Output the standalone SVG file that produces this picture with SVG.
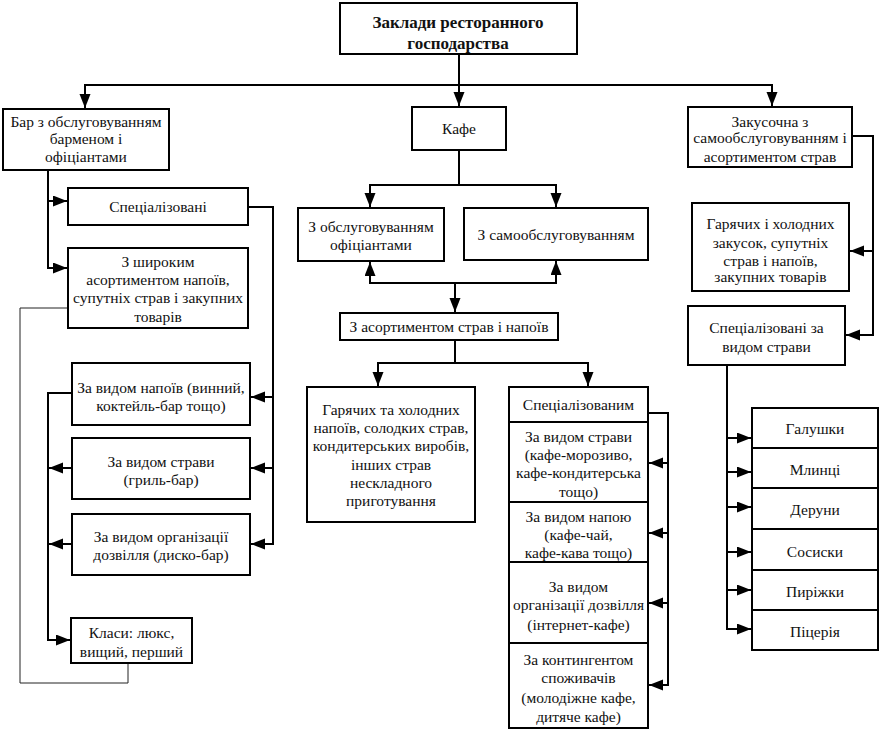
<svg xmlns="http://www.w3.org/2000/svg" width="879" height="731" viewBox="0 0 879 731">
<defs>
<marker id="ah" markerUnits="userSpaceOnUse" markerWidth="15" markerHeight="12" refX="14" refY="5.5" orient="auto">
<path d="M0,0 L14,5.5 L0,11 z" fill="#000"/>
</marker>
<style>
.box{fill:#fff;stroke:#000;stroke-width:2}
.t{font-family:"Liberation Serif","Times New Roman",serif;font-size:15.5px;fill:#111;text-anchor:middle}
.tb{font-family:"Liberation Serif","Times New Roman",serif;font-size:17px;font-weight:bold;fill:#111;text-anchor:middle}
.a{fill:none;stroke:#000;stroke-width:2;marker-end:url(#ah)}
.thin{fill:none;stroke:#222;stroke-width:1}
</style>
</defs>
<rect width="879" height="731" fill="#fff"/>
<g id="connectors">
<path class="a" d="M459,54 V106"/>
<path class="a" d="M459,85 H85 V108"/>
<path class="a" d="M459,85 H772 V106"/>
<path class="a" d="M48,170 V268 H67"/>
<path class="a" d="M48,201 H67"/>
<path class="a" d="M248,207 H273 V544 H251"/>
<path class="a" d="M273,397 H251"/>
<path class="a" d="M273,468 H251"/>
<path class="a" d="M72,393 H48 V640 H70"/>
<path class="a" d="M72,468 H49"/>
<path class="a" d="M72,544 H49"/>
<path class="thin" d="M68,308 H20 V683 H128 V663"/>
<path class="a" d="M459,150 V185 H370 V207"/>
<path class="a" d="M459,185 H556 V207"/>
<path class="a" d="M455,283 H370 V262"/>
<path class="a" d="M455,283 H556 V261"/>
<path class="a" d="M455,283 V312"/>
<path class="a" d="M455,340 V363 H378 V386"/>
<path class="a" d="M455,363 H588 V386"/>
<path class="a" d="M648,413 H668 V685 H649"/>
<path class="a" d="M668,463 H649"/>
<path class="a" d="M668,533 H649"/>
<path class="a" d="M668,603 H649"/>
<path class="a" d="M852,136 H873 V335 H846"/>
<path class="a" d="M873,251 H850"/>
<path class="a" d="M727,365 V629 H751"/>
<path class="a" d="M727,438 H751"/>
<path class="a" d="M727,472 H751"/>
<path class="a" d="M727,507 H751"/>
<path class="a" d="M727,552 H751"/>
<path class="a" d="M727,590 H751"/>
</g>
<g id="root"><rect class="box" x="340" y="3" width="237" height="51"/>
<text class="tb" x="458" y="28">Заклади ресторанного</text>
<text class="tb" x="458" y="49">господарства</text></g>
<g id="bar"><rect class="box" x="3" y="109" width="166" height="61"/>
<text class="t" x="86" y="127">Бар з обслуговуванням</text>
<text class="t" x="86" y="144">барменом і</text>
<text class="t" x="86" y="162">офіціантами</text></g>
<g id="bar-spec"><rect class="box" x="68" y="188" width="180" height="37"/>
<text class="t" x="158" y="212">Спеціалізовані</text></g>
<g id="bar-wide"><rect class="box" x="68" y="248" width="180" height="80"/>
<text class="t" x="158" y="267">З широким</text>
<text class="t" x="158" y="285">асортиментом напоїв,</text>
<text class="t" x="158" y="303">супутніх страв і закупних</text>
<text class="t" x="158" y="322">товарів</text></g>
<g id="bar-drinks"><rect class="box" x="72" y="363" width="178" height="62"/>
<text class="t" x="161" y="393">За видом напоїв (винний,</text>
<text class="t" x="161" y="411">коктейль-бар тощо)</text></g>
<g id="bar-dish"><rect class="box" x="72" y="438" width="178" height="61"/>
<text class="t" x="161" y="467">За видом страви</text>
<text class="t" x="161" y="485">(гриль-бар)</text></g>
<g id="bar-leisure"><rect class="box" x="72" y="514" width="178" height="61"/>
<text class="t" x="161" y="542">За видом організації</text>
<text class="t" x="161" y="560">дозвілля (диско-бар)</text></g>
<g id="bar-class"><rect class="box" x="71" y="618" width="121" height="45"/>
<text class="t" x="131.5" y="638">Класи: люкс,</text>
<text class="t" x="131.5" y="657">вищий, перший</text></g>
<g id="cafe"><rect class="box" x="412" y="107" width="94" height="43"/>
<text class="t" x="459" y="134">Кафе</text></g>
<g id="cafe-waiters"><rect class="box" x="298" y="208" width="146" height="53"/>
<text class="t" x="371" y="232">З обслуговуванням</text>
<text class="t" x="371" y="250">офіціантами</text></g>
<g id="cafe-self"><rect class="box" x="464" y="208" width="184" height="52"/>
<text class="t" x="556" y="240">З самообслуговуванням</text></g>
<g id="cafe-assort"><rect class="box" x="340" y="313" width="218" height="27"/>
<text class="t" x="449" y="332">З асортиментом страв і напоїв</text></g>
<g id="cafe-hot"><rect class="box" x="307" y="387" width="168" height="135"/>
<text class="t" x="391" y="415">Гарячих та холодних</text>
<text class="t" x="391" y="433">напоїв, солодких страв,</text>
<text class="t" x="391" y="451">кондитерських виробів,</text>
<text class="t" x="391" y="470">інших страв</text>
<text class="t" x="391" y="488">нескладного</text>
<text class="t" x="391" y="506">приготування</text></g>
<g id="cafe-spec"><rect class="box" x="509" y="387" width="139" height="35"/>
<text class="t" x="578.5" y="410">Спеціалізованим</text></g>
<g id="cafe-dish"><rect class="box" x="509" y="422" width="139" height="80"/>
<text class="t" x="578.5" y="442">За видом страви</text>
<text class="t" x="578.5" y="460">(кафе-морозиво,</text>
<text class="t" x="578.5" y="478">кафе-кондитерська</text>
<text class="t" x="578.5" y="497">тощо)</text></g>
<g id="cafe-drink"><rect class="box" x="509" y="502" width="139" height="60"/>
<text class="t" x="578.5" y="522">За видом напою</text>
<text class="t" x="578.5" y="540">(кафе-чай,</text>
<text class="t" x="578.5" y="558">кафе-кава тощо)</text></g>
<g id="cafe-leisure"><rect class="box" x="509" y="562" width="139" height="81"/>
<text class="t" x="578.5" y="592">За видом</text>
<text class="t" x="578.5" y="610">організації дозвілля</text>
<text class="t" x="578.5" y="630">(інтернет-кафе)</text></g>
<g id="cafe-consumers"><rect class="box" x="509" y="643" width="139" height="85"/>
<text class="t" x="578.5" y="665">За контингентом</text>
<text class="t" x="578.5" y="683">споживачів</text>
<text class="t" x="578.5" y="703">(молодіжне кафе,</text>
<text class="t" x="578.5" y="722">дитяче кафе)</text></g>
<g id="snack"><rect class="box" x="688" y="107" width="164" height="60"/>
<text class="t" x="770" y="127">Закусочна з</text>
<text class="t" x="770" y="143">самообслуговуванням і</text>
<text class="t" x="770" y="162">асортиментом страв</text></g>
<g id="snack-hot"><rect class="box" x="692" y="203" width="157" height="88"/>
<text class="t" x="770.5" y="229">Гарячих і холодних</text>
<text class="t" x="770.5" y="248">закусок, супутніх</text>
<text class="t" x="770.5" y="266">страв і напоїв,</text>
<text class="t" x="770.5" y="282">закупних товарів</text></g>
<g id="snack-spec"><rect class="box" x="688" y="306" width="157" height="59"/>
<text class="t" x="766.5" y="333">Спеціалізовані за</text>
<text class="t" x="766.5" y="352">видом страви</text></g>
<g id="galushky"><rect class="box" x="752" y="408" width="126" height="40"/>
<text class="t" x="815" y="434">Галушки</text></g>
<g id="mlyntsi"><rect class="box" x="752" y="448" width="126" height="40"/>
<text class="t" x="815" y="475">Млинці</text></g>
<g id="deruny"><rect class="box" x="752" y="488" width="126" height="41"/>
<text class="t" x="815" y="515">Деруни</text></g>
<g id="sosysky"><rect class="box" x="752" y="529" width="126" height="41"/>
<text class="t" x="815" y="557">Сосиски</text></g>
<g id="pyrizhky"><rect class="box" x="752" y="570" width="126" height="40"/>
<text class="t" x="815" y="597">Пиріжки</text></g>
<g id="pizzeria"><rect class="box" x="752" y="610" width="126" height="40"/>
<text class="t" x="815" y="637">Піцерія</text></g>
</svg>
